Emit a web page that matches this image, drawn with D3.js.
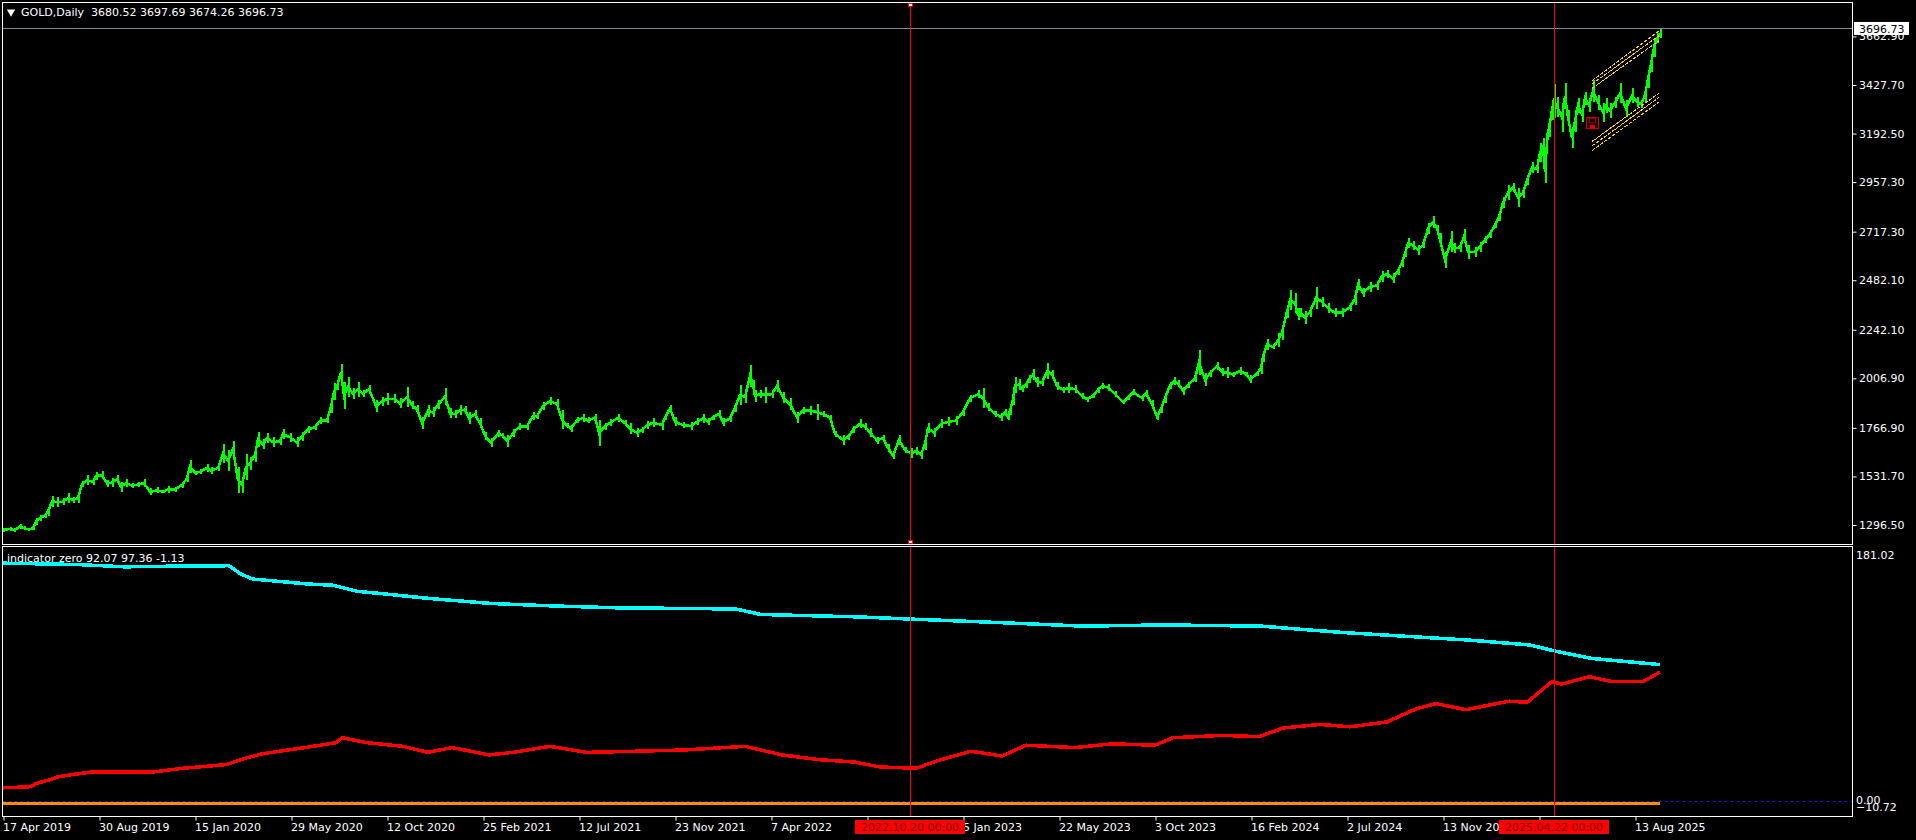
<!DOCTYPE html>
<html><head><meta charset="utf-8">
<style>html,body{margin:0;padding:0;background:#000;overflow:hidden}svg{display:block}text{font-family:"DejaVu Sans",sans-serif;font-size:11px;fill:#fff}</style>
<script src="https://cdnjs.cloudflare.com/ajax/libs/d3/7.8.5/d3.min.js"></script>
</head><body><svg id="c" width="1916" height="840"></svg>
<script>
// each row: [bar, high, low]
const gold2019=[[0,1278,1261],[7,1286,1265],[11,1278,1260],[17,1299,1273],[21,1289,1269],[25,1281,1266],[30,1286,1269],[33,1326,1294],[37,1342,1315],[42,1353,1326],[45,1382,1337],[49,1436,1382],[54,1431,1379],[60,1423,1391],[65,1450,1399],[70,1431,1402],[75,1447,1399],[79,1509,1476],[84,1534,1488],[90,1520,1488],[93,1552,1512],[99,1554,1515],[104,1512,1479],[109,1520,1479],[114,1534,1496],[118,1504,1455],[123,1515,1479],[129,1499,1471],[135,1504,1476],[141,1515,1479],[147,1471,1439],[154,1476,1447],[160,1463,1447],[165,1483,1450],[172,1479,1455],[179,1504,1471],[184,1536,1504],[187,1609,1547],[192,1557,1536],[197,1563,1541],[204,1589,1552],[208,1573,1541],[215,1584,1557],[220,1686,1592],[225,1657,1557],[230,1699,1625],[235,1576,1447],[239,1528,1447],[243,1638,1512],[247,1625,1560],[252,1670,1601],[255,1744,1673],[260,1709,1660],[264,1738,1689],[270,1718,1673],[277,1718,1681],[280,1760,1709],[287,1741,1697],[294,1718,1670],[299,1746,1702],[305,1773,1741],[312,1783,1754],[317,1815,1783],[324,1811,1790],[328,1899,1835],[331,1983,1899],[334,1980,1948],[338,2074,1996],[341,1988,1854],[345,2012,1915],[350,1956,1903],[355,1988,1915],[360,1948,1912],[366,1972,1932],[373,1899,1843],[379,1915,1870],[384,1932,1875],[391,1927,1883],[397,1907,1859],[404,1961,1867],[409,1896,1854],[414,1875,1835],[419,1819,1759],[425,1875,1819],[430,1864,1815],[435,1899,1854],[442,1956,1875],[447,1859,1811],[452,1851,1811],[457,1875,1827],[462,1870,1835],[466,1843,1783],[472,1851,1811],[477,1811,1762],[482,1746,1706],[488,1714,1673],[495,1754,1718]];
const gold2021=[[499,1741,1718],[504,1730,1673],[510,1757,1718],[516,1786,1754],[524,1790,1754],[530,1843,1802],[534,1835,1806],[540,1891,1851],[547,1912,1875],[554,1903,1859],[559,1851,1757],[564,1790,1762],[568,1778,1746],[574,1815,1786],[580,1832,1794],[585,1815,1786],[592,1832,1799],[596,1802,1676],[602,1790,1754],[607,1806,1773],[615,1832,1794],[622,1802,1773],[627,1786,1735],[634,1762,1718],[639,1770,1738],[644,1798,1757],[650,1811,1767],[659,1802,1754],[662,1827,1802],[667,1874,1843],[672,1815,1773],[680,1794,1762],[688,1794,1754],[694,1811,1778],[700,1832,1790],[705,1811,1778],[710,1827,1802],[716,1851,1815],[720,1811,1773],[727,1827,1794],[732,1883,1843],[737,1972,1875],[742,1945,1883],[747,2069,1964],[750,1996,1956],[752,1948,1891],[757,1948,1907],[762,1964,1887],[769,1948,1907],[774,1996,1940],[780,1940,1883],[787,1907,1851],[794,1843,1786],[800,1867,1832],[807,1870,1827],[814,1880,1802],[820,1848,1815],[827,1827,1802],[832,1751,1722],[840,1730,1681],[845,1735,1706],[850,1773,1738],[857,1806,1762],[862,1786,1754],[867,1762,1722],[874,1722,1686],[880,1730,1698],[885,1686,1649],[890,1649,1612],[896,1730,1681],[902,1673,1641],[908,1665,1617],[913,1670,1633],[918,1657,1612],[922,1719,1657],[925,1786,1738],[931,1762,1722],[938,1806,1762],[945,1815,1773],[953,1822,1778],[960,1859,1822],[967,1924,1891],[975,1948,1907],[980,1956,1859],[985,1883,1848],[992,1848,1819]];
const gold2023=[[998,1835,1799],[1002,1854,1827],[1005,1827,1802],[1007,1870,1827],[1010,1932,1875],[1012,2012,1932],[1016,2000,1948],[1019,1972,1940],[1023,1993,1956],[1026,2020,1980],[1030,2048,1996],[1034,2012,1964],[1039,2000,1967],[1044,2077,2000],[1049,2045,2004],[1054,1988,1948],[1060,1964,1932],[1065,1980,1935],[1072,1972,1932],[1079,1935,1903],[1084,1915,1891],[1090,1932,1907],[1095,1964,1935],[1099,1983,1951],[1105,1977,1945],[1112,1945,1912],[1120,1899,1880],[1125,1923,1899],[1130,1951,1923],[1139,1923,1896],[1143,1948,1915],[1149,1899,1859],[1154,1835,1802],[1158,1875,1835],[1162,1932,1883],[1167,1988,1951],[1171,2009,1972],[1175,1996,1964],[1180,1964,1923],[1185,1988,1956],[1192,2020,1988],[1196,2142,2020],[1202,2028,1967],[1207,2045,2012],[1214,2085,2045],[1219,2053,2016],[1224,2061,2004],[1230,2037,2009],[1237,2061,2020],[1243,2037,2012],[1247,2020,1980],[1254,2037,2016],[1258,2085,2025],[1260,2133,2085],[1264,2193,2142],[1270,2166,2145],[1275,2222,2154],[1279,2263,2190],[1284,2360,2295],[1287,2432,2335],[1292,2416,2322],[1295,2343,2287],[1297,2343,2303]];
const gold2024=[[1302,2330,2270],[1307,2350,2300],[1313,2448,2340],[1319,2400,2350],[1325,2370,2320],[1332,2345,2300],[1339,2345,2300],[1347,2370,2330],[1352,2420,2360],[1355,2484,2432],[1360,2440,2400],[1367,2472,2424],[1374,2477,2432],[1379,2526,2472],[1384,2529,2489],[1390,2513,2464],[1395,2545,2505],[1399,2586,2545],[1402,2626,2594],[1405,2682,2634],[1410,2671,2626],[1415,2650,2602],[1420,2666,2634],[1425,2755,2703],[1430,2791,2731],[1434,2747,2715],[1437,2707,2642],[1442,2618,2537],[1448,2720,2618],[1451,2658,2610],[1457,2658,2618],[1461,2726,2658],[1465,2650,2581],[1472,2642,2594],[1477,2666,2618],[1482,2694,2658],[1487,2723,2682],[1492,2763,2731],[1496,2804,2768],[1500,2881,2828],[1505,2941,2868],[1510,2952,2909],[1515,2925,2836],[1520,2930,2876],[1524,2989,2941],[1529,3054,2997],[1534,3038,2997],[1537,3143,3054],[1540,3167,3094],[1542,3054,2952],[1545,3240,3175]];
const gold2025=[[1546,3248,3175],[1549,3352,3256],[1551,3430,3264],[1554,3369,3272],[1559,3336,3199],[1562,3433,3312],[1565,3304,3231],[1569,3223,3118],[1572,3304,3199],[1575,3361,3288],[1579,3320,3248],[1582,3393,3328],[1586,3361,3296],[1590,3449,3344],[1595,3377,3304],[1600,3336,3248],[1603,3361,3288],[1607,3336,3264],[1612,3369,3312],[1617,3433,3336],[1623,3352,3272],[1629,3409,3336],[1634,3369,3320],[1638,3352,3312],[1642,3409,3344],[1645,3498,3409],[1648,3562,3490],[1651,3651,3562],[1654,3675,3627],[1657,3697,3651]];
// indicator rows: [bar, value]
const cyanSeries=[[0,169.5],[73,168.6],[122,166.9],[159,167.3],[226,167.7],[238,161.7],[250,158.2],[305,154.7],[330,153.8],[354,149.5],[379,147.8],[428,144.3],[489,140.8],[550,139.1],[611,137.8],[733,136.9],[758,133],[855,131.3],[916,129.5],[977,127.8],[1038,126],[1081,124.7],[1160,125.6],[1259,124.7],[1295,122.6],[1344,120],[1405,117.4],[1466,114.8],[1527,111.3],[1552,107],[1589,101.7],[1657,97.36]];
const redSeries=[[0,9.7],[28,10.5],[33,12.7],[47,15.5],[55,17.5],[70,19.2],[89,20.9],[119,20.9],[150,20.9],[180,23.6],[223,26.2],[241,30.5],[260,34],[302,38.3],[333,41.8],[339,45.3],[364,41.8],[400,39.2],[425,34.9],[449,38.3],[486,33.1],[510,34.9],[547,39.2],[584,34.9],[632,35.7],[681,36.6],[742,39.2],[779,33.1],[816,29.7],[852,28],[877,24.5],[913,23.6],[938,29.7],[968,35.7],[999,32.3],[1023,40],[1072,38.3],[1109,41],[1152,40],[1170,45.3],[1219,47],[1256,46.1],[1280,52.2],[1317,54.8],[1347,53.1],[1384,56.6],[1414,66.1],[1433,69.6],[1463,65.3],[1506,71.3],[1524,70.5],[1549,85.2],[1559,83.5],[1586,88.7],[1610,85.2],[1640,85.2],[1657,92.07]];
const orangeSeries=[[0,-1.13],[1657,-1.13]];
// channel rows: [startBar, startPrice, endBar, endPrice]
const channelLines=[[1589,3446,1656,3687],[1589,3430,1656,3664],[1589,3409,1656,3640],[1589,3152,1656,3386],[1589,3130,1656,3365],[1589,3107,1656,3343]];
const priceTicks=[3662.90,3427.70,3192.50,2957.30,2717.30,2482.10,2242.10,2006.90,1766.90,1531.70,1296.50];
const timeBars=[0,96,192,288,384,480,576,672,768,864,960,1056,1152,1248,1344,1440,1536,1632];
const timeLabels=["17 Apr 2019","30 Aug 2019","15 Jan 2020","29 May 2020","12 Oct 2020","25 Feb 2021","12 Jul 2021","23 Nov 2021","7 Apr 2022","19 Aug 2022","5 Jan 2023","22 May 2023","3 Oct 2023","16 Feb 2024","2 Jul 2024","13 Nov 2024","1 Apr 2025","13 Aug 2025"];
const markerBars=[907,1551];
const markerLabels=["2022.10.20 00:00","2025.04.22 00:00"];
const lastPrice=3696.73;
const saveIcon=[1586,3241];
const subTicks=[181.02,0,-10.72];
const mainTitle="GOLD,Daily  3680.52 3697.69 3674.26 3696.73";
const subTitle="indicator zero 92.07 97.36 -1.13";

const svg=d3.select("#c");
const L=2.5,R=1852.5,T=2.5,MB=544.5,ST=546.5,B=816.5;
const x=d3.scaleLinear().domain([0,1849]).range([3,1852]);
const y=d3.scaleLinear().domain([3427.7,1296.5]).range([84.5,524.5]);
const ys=d3.scaleLinear().domain([181.02,-10.72]).range([547,816.5]);
svg.append("rect").attr("width",1916).attr("height",840).attr("fill","#000");

// reference lines
svg.append("line").attr("x1",L).attr("x2",R).attr("y1",Math.floor(y(lastPrice))+.5).attr("y2",Math.floor(y(lastPrice))+.5).attr("stroke","#7f8896");

// gold price: a mid line plus high-low bars
const gold=[...gold2019,...gold2021,...gold2023,...gold2024,...gold2025];
const midLine=d3.line().x(d=>x(d[0])).y(d=>y((d[1]+d[2])/2));
svg.append("path").attr("d",midLine(gold)).attr("fill","none").attr("stroke","#00ff00").attr("stroke-width",2.5).attr("shape-rendering","crispEdges");
svg.append("g").selectAll("line").data(gold).join("line")
 .attr("x1",d=>Math.round(x(d[0]))+.5).attr("x2",d=>Math.round(x(d[0]))+.5)
 .attr("y1",d=>y(d[1])).attr("y2",d=>y(d[2]))
 .attr("stroke","#00ff00").attr("stroke-width",2).attr("shape-rendering","crispEdges");

// channels
svg.append("g").selectAll("line").data(channelLines).join("line")
 .attr("x1",d=>x(d[0])).attr("y1",d=>y(d[1])).attr("x2",d=>x(d[2])).attr("y2",d=>y(d[3]))
 .attr("stroke","#ffd21a").attr("stroke-width",1).attr("stroke-dasharray","4,1").attr("shape-rendering","crispEdges");

// save icon
const ic=svg.append("g").attr("transform",`translate(${x(saveIcon[0])-3},${y(saveIcon[1])-6})`);
ic.append("rect").attr("x",.5).attr("y",.5).attr("width",12).attr("height",11).attr("fill","#240000").attr("stroke","#d00000");
ic.append("rect").attr("x",3.5).attr("y",1.5).attr("width",6).attr("height",4).attr("fill","#000").attr("stroke","#900000");
ic.append("rect").attr("x",4).attr("y",8).attr("width",5).attr("height",3).attr("fill","#e00000");

// indicator lines
const ln=d3.line().x(d=>x(d[0])).y(d=>ys(d[1]));
[[cyanSeries,"#00ffff",3.5],[redSeries,"#ff0000",3.5],[orangeSeries,"#ff8c00",3]].forEach(([s,c,w])=>{
 svg.append("path").attr("d",ln(s)).attr("fill","none").attr("stroke",c).attr("stroke-width",w).attr("shape-rendering","crispEdges");
});
// zero line runs over the orange line
svg.append("line").attr("x1",L).attr("x2",R).attr("y1",Math.floor(ys(0))+.5).attr("y2",Math.floor(ys(0))+.5).attr("stroke","#1a1ae0").attr("stroke-dasharray","3,3");

// vertical markers
svg.append("g").selectAll("line").data(markerBars).join("line")
 .attr("x1",d=>x(d)+.5).attr("x2",d=>x(d)+.5).attr("y1",T).attr("y2",B).attr("stroke","#ff0000");

// frames
const fr=(y0,y1)=>svg.append("rect").attr("x",L).attr("y",y0).attr("width",R-L).attr("height",y1-y0).attr("fill","none").attr("stroke","#fff");
fr(T,MB);fr(ST,B);

// handles
const hx=x(markerBars[0]);
[[hx-2,3],[hx-2,540]].forEach(p=>svg.append("rect").attr("x",p[0]+.5).attr("y",p[1]+.5).attr("width",4).attr("height",3).attr("fill","#fff").attr("stroke","#ff0000"));

// time axis
const axX=d3.axisBottom(x).tickValues(timeBars).tickSize(4).tickFormat((d,i)=>timeLabels[i]);
const gx=svg.append("g").attr("transform",`translate(0.5,${B})`).call(axX);
gx.select(".domain").remove();
gx.selectAll(".tick line").attr("stroke","#fff");
gx.selectAll(".tick text").attr("text-anchor","start").attr("x",-1).attr("y",7).attr("dy","0.71em").style("fill","#fff").style("font-family",'"DejaVu Sans",sans-serif').style("font-size","11px");

// price axis
const axY=d3.axisRight(y).tickValues(priceTicks).tickSize(4).tickFormat(d3.format(".2f"));
const gy=svg.append("g").attr("transform",`translate(${R},0.5)`).call(axY);
gy.select(".domain").remove();
gy.selectAll(".tick line").attr("stroke","#fff");
gy.selectAll(".tick text").attr("x",6.5).style("fill","#fff").style("font-family",'"DejaVu Sans",sans-serif').style("font-size","11px");

// last price tag
svg.append("rect").attr("x",1854).attr("y",y(lastPrice)-7).attr("width",55).attr("height",13).attr("fill","#fff");
svg.append("text").attr("x",1859).attr("y",y(lastPrice)+4).text(d3.format(".2f")(lastPrice)).style("fill","#000");

// sub axis
const subOffset=v=>v===181.02?12:v===-10.72?-6:3;
svg.append("g").selectAll("text").data(subTicks).join("text").attr("x",1856).attr("y",d=>ys(d)+subOffset(d)).text(d=>d===0?"0.00":d3.format(".2f")(d));

// marker tags
const tg=svg.append("g").selectAll("g").data(markerBars).join("g").attr("transform",d=>`translate(${x(d)},820)`);
tg.append("rect").attr("x",-55).attr("y",0).attr("width",110).attr("height",14).attr("fill","#ff0000");
tg.append("text").attr("x",0).attr("y",11).attr("text-anchor","middle").text((d,i)=>markerLabels[i]).style("fill","#7a0000");

// titles
svg.append("path").attr("d",d3.symbol(d3.symbolTriangle,30)()).attr("transform","translate(11,12) rotate(180)").attr("fill","#fff");
svg.append("text").attr("x",21).attr("y",16).attr("xml:space","preserve").style("white-space","pre").text(mainTitle);
svg.append("text").attr("x",7).attr("y",562).text(subTitle);
</script></body></html>
